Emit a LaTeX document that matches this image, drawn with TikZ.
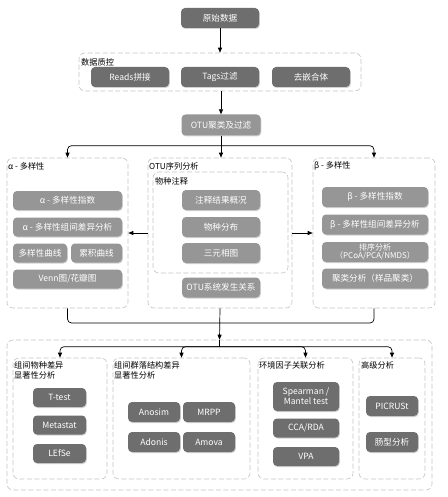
\documentclass[tikz,border=0pt]{standalone}
\usepackage{fontspec}
\setmainfont{Noto Sans CJK SC}
\usetikzlibrary{arrows.meta,shadows,fit,positioning}
\definecolor{darkbox}{HTML}{6E6E6E}
\definecolor{lightbox}{HTML}{969696}
\definecolor{grpline}{HTML}{C4C4C4}
\begin{document}
\begin{tikzpicture}[x=1pt,y=-1pt,
  box/.style={rounded corners=4pt, text=white, inner sep=0pt, align=center,
    font=\fontsize{8.6}{10}\selectfont,
    drop shadow={opacity=0.35, shadow xshift=0.8pt, shadow yshift=-1pt}},
  dbox/.style={box, fill=darkbox},
  lbox/.style={box, fill=lightbox},
  grp/.style={draw=grpline, dashed, dash pattern=on 5pt off 2.5pt, rounded corners=6pt, inner sep=0pt, line width=0.6pt},
  glabel/.style={font=\fontsize{8.2}{10}\selectfont, inner sep=0pt, align=left},
  arr/.style={line width=0.7pt, -{Triangle[length=5pt,width=4pt]}},
  ln/.style={line width=0.7pt},
]
\useasboundingbox (0,0) rectangle (447,497);
\fill[white] (0,0) rectangle (447,497);

% top
\node[dbox, minimum width=78pt, minimum height=20pt] (raw) at (220,18) {原始数据};

\node[grp, fit={(79,53) (361,91)}] (qc) {};
\node[glabel, anchor=west] (qcl) at (81,62) {数据质控};
\node[dbox, minimum width=78pt, minimum height=20pt] (reads) at (130,77) {Reads拼接};
\node[dbox, minimum width=78pt, minimum height=20pt] (tags) at (220,77) {Tags过滤};
\node[dbox, minimum width=78pt, minimum height=20pt] (chim) at (311,77) {去嵌合体};

\node[lbox, minimum width=79pt, minimum height=21pt] (otu) at (221,125) {OTU聚类及过滤};

% middle groups
\node[grp, fit={(7,158) (128,308)}] (alpha) {};
\node[glabel, anchor=west] (alphal) at (8,166) {α - 多样性};
\node[lbox, minimum width=109pt, minimum height=19pt] (a1) at (67.5,200.5) {α - 多样性指数};
\node[lbox, minimum width=109pt, minimum height=19pt] (a2) at (67.5,227) {α - 多样性组间差异分析};
\node[lbox, minimum width=54pt, minimum height=19pt] (a3) at (40,253) {多样性曲线};
\node[lbox, minimum width=51pt, minimum height=19pt] (a4) at (96.5,253) {累积曲线};
\node[lbox, minimum width=109pt, minimum height=19pt] (a5) at (67.5,279) {Venn图/花瓣图};

\node[grp, fit={(148,158) (292,308)}] (seq) {};
\node[glabel, anchor=west] (seql) at (149,166) {OTU序列分析};
\node[grp, fit={(153,172) (288,273)}] (anno) {};
\node[glabel, anchor=west] (annol) at (155,181) {物种注释};
\node[lbox, minimum width=78pt, minimum height=20pt] (s1) at (221,200) {注释结果概况};
\node[lbox, minimum width=78pt, minimum height=20pt] (s2) at (221,227) {物种分布};
\node[lbox, minimum width=78pt, minimum height=20pt] (s3) at (221,253) {三元相图};
\node[lbox, minimum width=78pt, minimum height=20pt] (s4) at (221,287.5) {OTU系统发生关系};

\node[grp, fit={(313,158) (435,308)}] (beta) {};
\node[glabel, anchor=west] (betal) at (314,166) {β - 多样性};
\node[lbox, minimum width=106pt, minimum height=20pt] (b1) at (375,197) {β - 多样性指数};
\node[lbox, minimum width=106pt, minimum height=20pt] (b2) at (375,224.5) {β - 多样性组间差异分析};
\node[lbox, minimum width=106pt, minimum height=20pt, font=\fontsize{8}{8.6}\selectfont] (b3) at (375,252) {排序分析\\（PCoA/PCA/NMDS）};
\node[lbox, minimum width=106pt, minimum height=20pt] (b4) at (375,278.5) {聚类分析（样品聚类）};

% bottom
\node[grp, fit={(7,340) (432,490)}] (bottom) {};

\node[grp, fit={(13,358) (107,479)}] (g1) {};
\node[glabel, anchor=north west] (g1l) at (14,361) {组间物种差异\\显著性分析};
\node[dbox, minimum width=53pt, minimum height=19pt] (t1) at (59.5,397.5) {T-test};
\node[dbox, minimum width=53pt, minimum height=19pt] (t2) at (59.5,425) {Metastat};
\node[dbox, minimum width=53pt, minimum height=19pt] (t3) at (59.5,453.5) {LEfSe};

\node[grp, fit={(113,358) (250,479)}] (g2) {};
\node[glabel, anchor=north west] (g2l) at (114,361) {组间群落结构差异\\显著性分析};
\node[dbox, minimum width=52pt, minimum height=20pt] (c1) at (154,412) {Anosim};
\node[dbox, minimum width=52pt, minimum height=20pt] (c2) at (209,412) {MRPP};
\node[dbox, minimum width=52pt, minimum height=20pt] (c3) at (154,442) {Adonis};
\node[dbox, minimum width=52pt, minimum height=20pt] (c4) at (209,442) {Amova};

\node[grp, fit={(258,358) (353,479)}] (g3) {};
\node[glabel, anchor=north west] (g3l) at (259,361) {环境因子关联分析};
\node[dbox, minimum width=66pt, minimum height=29pt] (e1) at (306,396.5) {Spearman /\\Mantel test};
\node[dbox, minimum width=66pt, minimum height=19pt] (e2) at (306,428) {CCA/RDA};
\node[dbox, minimum width=66pt, minimum height=19pt] (e3) at (306,456.5) {VPA};

\node[grp, fit={(359,358) (425,479)}] (g4) {};
\node[glabel, anchor=north west] (g4l) at (361,361) {高级分析};
\node[dbox, minimum width=52pt, minimum height=20pt] (p1) at (392,406) {PICRUSt};
\node[dbox, minimum width=52pt, minimum height=20pt] (p2) at (392,442) {肠型分析};

% connectors
\draw[arr] (raw) -- (raw |- qc.north);
\draw[arr] (otu.north |- qc.south) -- (otu.north);
\draw[ln] (otu.south) -- ++(0,10) coordinate (br1);
\draw[arr, rounded corners=4pt] (br1) -| (alpha.north);
\draw[arr, rounded corners=4pt] (br1) -| (beta.north);
\draw[arr] (br1) -- (br1 |- seq.north);
\draw[arr] (seq.west) -- (alpha.east);
\draw[arr] (seq.east) -- (beta.west);
\coordinate (mg) at (220,323);
\draw[ln, rounded corners=4pt] (alpha.south) |- (mg);
\draw[ln, rounded corners=4pt] (beta.south) |- (mg);
\draw[arr] (seq.south) -- (bottom.north);
\draw[ln] (bottom.north) -- ++(0,7) coordinate (br2);
\draw[arr, rounded corners=4pt] (br2) -| (g1.north);
\draw[arr, rounded corners=4pt] (br2) -| (g2.north);
\draw[arr, rounded corners=4pt] (br2) -| (g3.north);
\draw[arr, rounded corners=4pt] (br2) -| (g4.north);
\end{tikzpicture}
\end{document}
